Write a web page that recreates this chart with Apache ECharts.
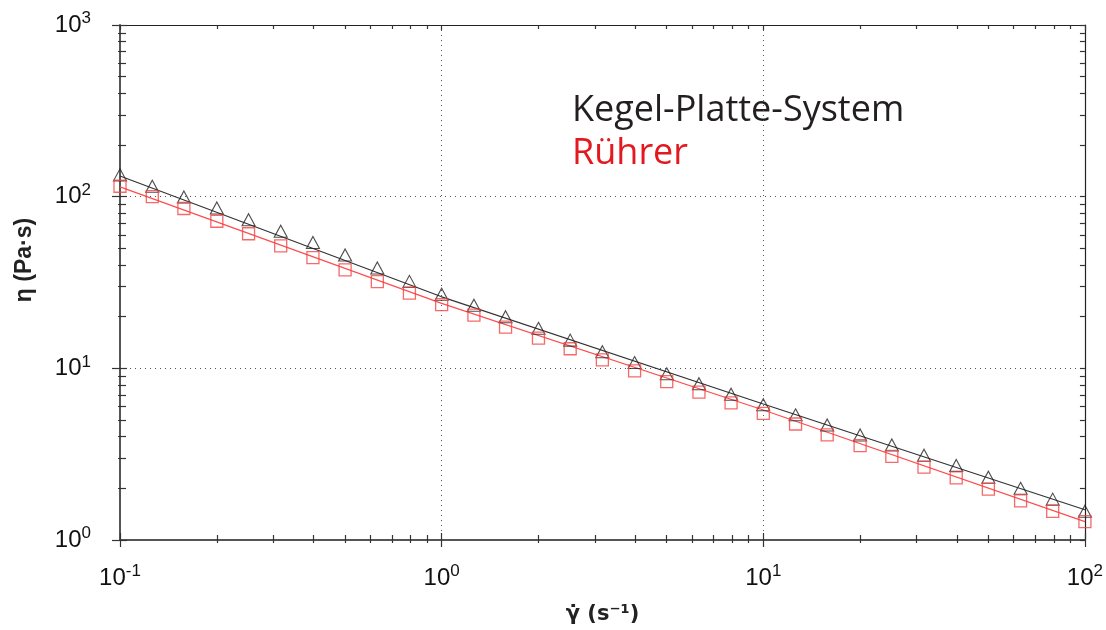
<!DOCTYPE html>
<html>
<head>
<meta charset="utf-8">
<script src="https://cdn.jsdelivr.net/npm/echarts@6/dist/echarts.min.js"></script>
<style>
html, body { margin: 0; padding: 0; background: #fff; }
#chart { width: 1106px; height: 630px; }
</style>
</head>
<body>
<div id="chart"></div>
<script>
// shear rate (1/s), 10 points per decade
var shearRate = [0.1, 0.126, 0.158, 0.2, 0.251, 0.316, 0.398, 0.501, 0.631, 0.794,
    1, 1.26, 1.58, 2, 2.51, 3.16, 3.98, 5.01, 6.31, 7.94,
    10, 12.6, 15.8, 20, 25.1, 31.6, 39.8, 50.1, 63.1, 79.4, 100];

// viscosity (Pa·s)
var etaCone = [134, 115, 99.5, 85.9, 73.4, 62.9, 54.1, 45.7, 38.4, 32.1,
    27.0, 23.3, 20.0, 17.1, 14.6, 12.5, 10.8, 9.29, 8.13, 7.07,
    6.14, 5.36, 4.68, 4.09, 3.58, 3.12, 2.72, 2.32, 2.00, 1.73, 1.47];
var etaStirrer = [115, 100, 85.3, 71.9, 60.8, 51.7, 44.1, 37.5, 32.0, 27.4,
    23.5, 20.4, 17.4, 15.0, 13.0, 11.2, 9.67, 8.36, 7.26, 6.30,
    5.47, 4.74, 4.10, 3.55, 3.07, 2.66, 2.30, 1.98, 1.69, 1.47, 1.28];

// fitted lines
var fitX = [0.1, 1, 10, 100];
var fitCone = [132, 26.1, 6.2, 1.5];
var fitStirrer = [114, 23.9, 5.72, 1.28];

var legendNames = ['Kegel-Platte-System', 'Rührer'];

function pairs(xs, ys) {
    var out = [];
    for (var i = 0; i < xs.length; i++) {
        out.push([xs[i], ys[i]]);
    }
    return out;
}

function powLabel(v) {
    var e = Math.round(Math.log10(v));
    return '{b|10}{s|' + e + '}';
}

var labelRich = {
    b: { fontSize: 24, lineHeight: 30, color: '#111', fontFamily: 'Liberation Sans' },
    s: { fontSize: 17, lineHeight: 10, verticalAlign: 'top', color: '#111', fontFamily: 'Liberation Sans' }
};

var tickStyle = { color: '#333', width: 1.2 };

// x axes: bottom with labels (ticks out), bottom duplicate (ticks in), top frame
var xAxes = [
    {
        type: 'log', position: 'bottom', min: 0.1, max: 100,
        axisLine: { show: true, lineStyle: { color: '#555', width: 2 } },
        axisTick: { show: true, inside: false, length: 7, lineStyle: tickStyle },
        minorTick: { show: true, splitNumber: 9, length: 3, lineStyle: tickStyle },
        axisLabel: { formatter: powLabel, rich: labelRich, margin: 23, showMinLabel: true, showMaxLabel: true },
        splitLine: { show: true, lineStyle: { color: '#555', type: [1, 4], width: 1 } },
        name: 'γ̇ (s⁻¹)', nameLocation: 'middle', nameGap: 64,
        nameTextStyle: { fontSize: 21, fontWeight: 'bold', color: '#222', fontFamily: 'DejaVu Sans' }
    },
    {
        type: 'log', position: 'bottom', min: 0.1, max: 100,
        axisLine: { show: false },
        axisTick: { show: true, inside: true, length: 7, lineStyle: tickStyle },
        minorTick: { show: true, splitNumber: 9, length: 5, lineStyle: tickStyle },
        axisLabel: { show: false },
        splitLine: { show: false }
    },
    {
        type: 'log', position: 'top', min: 0.1, max: 100,
        axisLine: { show: true, lineStyle: { color: '#222', width: 1.2 } },
        axisTick: { show: true, inside: true, length: 5, lineStyle: tickStyle },
        minorTick: { show: true, splitNumber: 9, length: 4, lineStyle: tickStyle },
        axisLabel: { show: false },
        splitLine: { show: false }
    }
];

var yAxes = [
    {
        type: 'log', position: 'left', min: 1, max: 1000,
        axisLine: { show: true, lineStyle: { color: '#555', width: 2 } },
        axisTick: { show: true, inside: false, length: 8, lineStyle: tickStyle },
        minorTick: { show: true, splitNumber: 9, length: 2, lineStyle: tickStyle },
        axisLabel: { formatter: powLabel, rich: labelRich, margin: 29, showMinLabel: true, showMaxLabel: true },
        splitLine: { show: true, lineStyle: { color: '#555', type: [1, 4], width: 1 } },
        name: 'η (Pa·s)', nameLocation: 'middle', nameGap: 84, nameRotate: 90,
        nameTextStyle: { fontSize: 23, fontWeight: 'bold', color: '#222', fontFamily: 'Liberation Sans, DejaVu Sans', padding: [0, 0, 0, 45] }
    },
    {
        type: 'log', position: 'left', min: 1, max: 1000,
        axisLine: { show: false },
        axisTick: { show: true, inside: true, length: 7, lineStyle: tickStyle },
        minorTick: { show: true, splitNumber: 9, length: 6, lineStyle: tickStyle },
        axisLabel: { show: false },
        splitLine: { show: false }
    },
    {
        type: 'log', position: 'right', min: 1, max: 1000,
        axisLine: { show: true, lineStyle: { color: '#222', width: 1.2 } },
        axisTick: { show: true, inside: true, length: 5, lineStyle: tickStyle },
        minorTick: { show: true, splitNumber: 9, length: 5, lineStyle: tickStyle },
        axisLabel: { show: false },
        splitLine: { show: false }
    }
];

var chart = echarts.init(document.getElementById('chart'));

var option = {
    backgroundColor: '#fff',
    animation: false,
    grid: { left: 120, right: 17, top: 25, bottom: 90 },
    xAxis: xAxes,
    yAxis: yAxes,
    graphic: [
        {
            type: 'text', left: 572, top: 93,
            style: { text: legendNames[0], fill: '#231f20', font: '36px "Open Sans"' }
        },
        {
            type: 'text', left: 572, top: 136,
            style: { text: legendNames[1], fill: '#e3191f', font: '36px "Open Sans"' }
        }
    ],
    series: [
        {
            name: 'fit cone', type: 'line', data: pairs(fitX, fitCone),
            showSymbol: false, lineStyle: { color: '#333', width: 1.2 }, z: 2
        },
        {
            name: 'fit stirrer', type: 'line', data: pairs(fitX, fitStirrer),
            showSymbol: false, lineStyle: { color: '#ff4d4d', width: 1.2 }, z: 2
        },
        {
            name: legendNames[0], type: 'scatter', data: pairs(shearRate, etaCone),
            symbol: 'triangle', symbolSize: [13, 12],
            itemStyle: { color: 'rgba(0,0,0,0)', borderColor: '#222', borderWidth: 1.1 }, z: 3
        },
        {
            name: legendNames[1], type: 'scatter', data: pairs(shearRate, etaStirrer),
            symbol: 'rect', symbolSize: 12,
            itemStyle: { color: 'rgba(0,0,0,0)', borderColor: '#f24444', borderWidth: 1.3 }, z: 3
        }
    ]
};

chart.setOption(option);
</script>
</body>
</html>
